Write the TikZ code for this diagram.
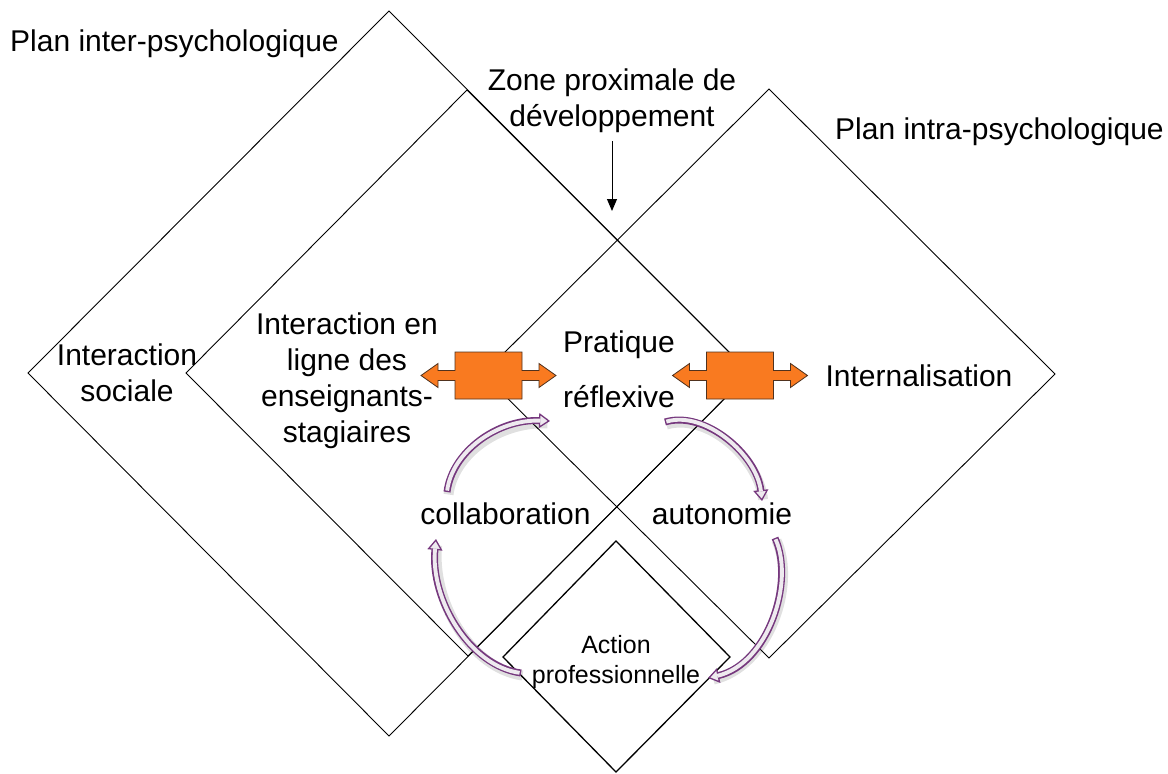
\documentclass[tikz,border=0pt]{standalone}
\usepackage{fontspec}
\setmainfont{Liberation Sans}
\usetikzlibrary{arrows.meta}
\definecolor{boxorange}{RGB}{249,122,32}
\definecolor{boxedge}{RGB}{80,50,30}
\definecolor{cycpurple}{RGB}{118,56,126}
\definecolor{cycfill}{RGB}{238,234,239}

% one curved block arrow of the cycle: shadow, purple outline with head, light core
\newcommand\purplecycle[1]{%
  \draw[cycshadow] #1;
  \draw[cycouter] #1;
  \draw[cycinner] #1;
}

\begin{document}
\begin{tikzpicture}[x=1pt,y=-1pt,
  frame/.style={draw=black, line width=0.9pt, line join=miter},
  smallframe/.style={draw=black, line width=1.3pt, line join=miter},
  lbl/.style={inner sep=0pt, font=\fontsize{30}{36}\selectfont, align=center},
  smalllbl/.style={inner sep=0pt, font=\fontsize{25}{30}\selectfont, align=center},
  cycouter/.style={draw=cycpurple, line width=7pt,
    -{Triangle[length=11pt, width=15pt, line width'=1.3pt, fill=cycfill]}},
  cycinner/.style={draw=cycfill, line width=3.9pt, shorten >=9.5pt, shorten <=1.4pt},
  cycshadow/.style={draw=black, opacity=0.12, line width=10pt, shorten >=4pt,
    transform canvas={xshift=1.5pt, yshift=-2.5pt}},
  zpdarrow/.style={draw=black, line width=1pt, -{Triangle[length=12pt, width=10pt]}},
  dblarrow/.pic={
    \path[draw=boxedge, fill=boxorange, line width=0.8pt, line join=miter]
      (-33.5,-23.5) -- (33.5,-23.5) -- (33.5,-5) -- (50.5,-5) -- (50.5,-12)
      -- (67.5,0) -- (50.5,12) -- (50.5,5) -- (33.5,5) -- (33.5,23.5)
      -- (-33.5,23.5) -- (-33.5,5) -- (-50.5,5) -- (-50.5,12) -- (-67.5,0)
      -- (-50.5,-12) -- (-50.5,-5) -- (-33.5,-5) -- cycle;
  }
]
\useasboundingbox (0,0) rectangle (1168,774);

% outer inter-psychological plane
\coordinate (oT) at (389,11);  \coordinate (oL) at (28,373);
\coordinate (oB) at (389,736); \coordinate (oR) at (750,373);
\draw[frame] (oT) -- (oL) -- (oB) -- (oR) -- cycle;

% inner plane of online interaction
\coordinate (iT) at (467,90);  \coordinate (iL) at (186,373);
\coordinate (iB) at (468,656); \coordinate (iR) at (750,373);
\draw[frame] (iT) -- (iL) -- (iB) -- (iR) -- cycle;

% intra-psychological plane
\coordinate (rT) at (769,89);  \coordinate (rL) at (483,374);
\coordinate (rB) at (769,658); \coordinate (rR) at (1055,374);
\draw[frame] (rT) -- (rL) -- (rB) -- (rR) -- cycle;

% professional action
\coordinate (sT) at (616,541); \coordinate (sL) at (503,657);
\coordinate (sB) at (616,772); \coordinate (sR) at (730,657);
\draw[smallframe] (sT) -- (sL) -- (sB) -- (sR) -- cycle;

% orange two-way exchanges
\pic (exL) at (488.5,375.5) {dblarrow};
\pic (exR) at (740,375.5) {dblarrow};

% cycle collaboration -> reflection -> autonomy -> action -> collaboration
\coordinate (c1s) at (447,492); \coordinate (c1e) at (550,421);
\coordinate (c2s) at (665,422); \coordinate (c2e) at (762,501);
\coordinate (c3s) at (775,538); \coordinate (c3e) at (708,678);
\coordinate (c4s) at (521,673); \coordinate (c4e) at (436,539);
\purplecycle{(c1s) .. controls (452,452) and (497,419) .. (c1e)}
\purplecycle{(c2s) .. controls (705,410) and (757,455) .. (c2e)}
\purplecycle{(c3s) .. controls (795,582) and (768,664) .. (c3e)}
\purplecycle{(c4s) .. controls (470,666) and (430,600) .. (c4e)}

% labels (base anchor sits on the last line)
\node[lbl, anchor=base west] (pinter) at (10,51) {Plan inter-psychologique};
\node[lbl, anchor=base west] (pintra) at (835,139) {Plan intra-psychologique};
\node[lbl, anchor=base] (zpd) at (612,126) {Zone proximale de\\développement};
\node[lbl, anchor=base] (isoc) at (127,401) {Interaction\\sociale};
\node[lbl, anchor=base] (iligne) at (347,442) {Interaction en\\ligne des\\enseignants-\\stagiaires};
\node[lbl, anchor=base] (prat) at (619,407) {Pratique\\[19pt]réflexive};
\node[lbl, anchor=base] (intern) at (919,386) {Internalisation};
\node[lbl, anchor=base] (collab) at (505.5,524) {collaboration};
\node[lbl, anchor=base] (auton) at (722,524) {autonomie};
\node[smalllbl, anchor=base] (action) at (616,683) {Action\\professionnelle};

% pointer to the zone of proximal development
\coordinate (zpdtip) at (612,211);
\draw[zpdarrow] (zpd.south) ++(0,9) -- (zpdtip);
\end{tikzpicture}
\end{document}
